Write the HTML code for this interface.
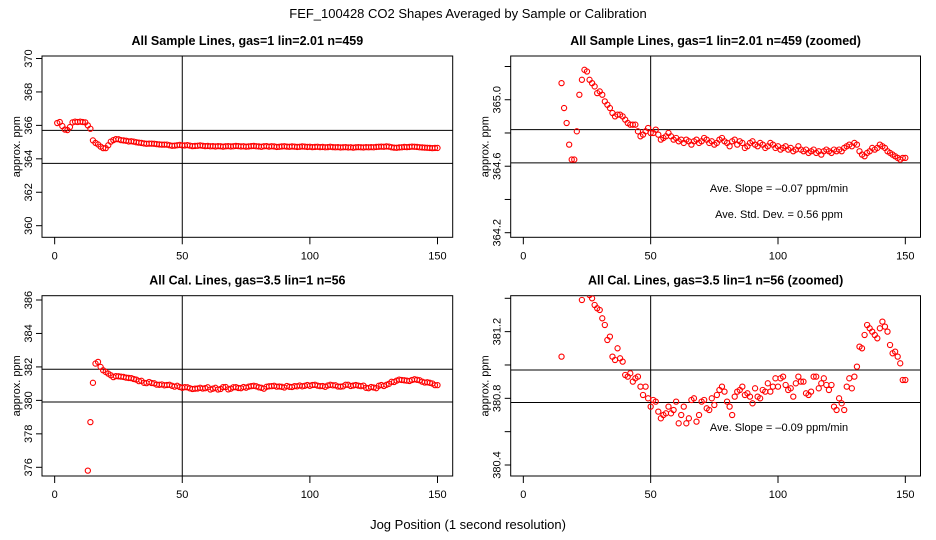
<!DOCTYPE html>
<html><head><meta charset="utf-8"><style>
html,body{margin:0;padding:0;background:#fff;width:936px;height:540px;overflow:hidden;}
svg{display:block;font-family:"Liberation Sans",sans-serif;}
</style></head><body>
<svg id="chart" width="936" height="540" viewBox="0 0 936 540" xmlns="http://www.w3.org/2000/svg">
<text x="468" y="18" text-anchor="middle" font-size="13">FEF_100428  CO2 Shapes Averaged by Sample or Calibration</text>
<text x="468" y="529" text-anchor="middle" font-size="13">Jog Position (1 second resolution)</text>
</svg>
<script>
const sampleStart = 1;
const sampleValues = [366.14,366.2,365.96,365.75,365.72,365.9,366.18,366.22,366.2,366.22,366.2,366.18,366.0,365.8,
365.10,364.95,364.86,364.73,364.64,364.64,364.81,365.03,365.12,365.18,365.17,365.12,365.10,365.08,365.04,365.05,
365.03,364.99,364.97,364.95,364.92,364.90,364.91,364.91,364.90,364.88,364.86,364.85,364.85,364.85,364.81,364.78,
364.79,364.81,364.83,364.80,364.80,364.82,364.79,364.76,364.77,364.78,364.80,364.78,364.76,
364.77,364.75,364.76,364.74,364.76,364.75,364.73,364.75,364.76,364.74,
364.75,364.77,364.76,364.74,364.75,364.73,364.74,364.76,364.77,364.75,
364.74,364.72,364.75,364.76,364.73,364.75,364.74,364.71,364.72,364.74,
364.75,364.73,364.72,364.74,364.73,364.71,364.72,364.74,364.73,364.71,
364.72,364.70,364.71,364.72,364.70,364.71,364.69,364.70,364.72,364.70,
364.69,364.70,364.68,364.69,364.70,364.68,364.69,364.67,364.69,364.70,
364.69,364.68,364.70,364.69,364.70,364.69,364.71,364.72,364.73,364.72,
364.74,364.73,364.69,364.67,364.66,364.68,364.69,364.71,364.70,364.71,
364.73,364.72,364.71,364.69,364.68,364.67,364.66,364.65,364.64,364.65,364.65];
const calStart = 13;
const calValues = [375.8,378.7,381.05,382.2,382.3,382.0,381.8,381.7,381.6,381.5,381.39,381.45,381.44,381.42,381.40,381.36,
381.34,381.33,381.28,381.24,381.15,381.17,381.05,381.03,381.10,381.04,381.02,380.94,380.93,380.95,380.90,380.92,
380.93,380.87,380.82,380.87,380.80,380.75,380.79,380.78,380.72,380.68,380.70,380.71,380.75,380.71,380.73,380.78,
380.65,380.70,380.75,380.65,380.68,380.79,380.80,380.66,380.70,380.78,380.79,380.74,380.73,380.80,380.76,380.82,
380.85,380.87,380.84,380.78,380.75,380.70,380.81,380.84,380.85,380.87,380.82,380.83,380.81,380.77,380.86,380.81,
380.80,380.85,380.84,380.89,380.84,380.87,380.92,380.87,380.92,380.93,380.88,380.85,380.86,380.81,380.89,380.93,
380.90,380.90,380.83,380.82,380.84,380.93,380.93,380.86,380.89,380.92,380.88,380.85,380.88,380.75,380.73,380.80,
380.77,380.73,380.87,380.92,380.86,380.93,380.99,381.11,381.10,381.18,381.24,381.22,381.20,381.18,381.16,381.22,
381.26,381.23,381.20,381.12,381.07,381.08,381.05,381.01,380.91,380.91];
const xTicks = [0,50,100,150];
const tlYTicks = [360,362,364,366,368,370];
const trYTicks = [364.2,364.4,364.6,364.8,365.0,365.2];
const trYLabels = ["364.2","","364.6","","365.0",""];
const blYTicks = [376,378,380,382,384,386];
const brYTicks = [380.4,380.6,380.8,381.0,381.2,381.4];
const brYLabels = ["380.4","","380.8","","381.2",""];
const tlHLines = [365.70,363.73];
const trHLines = [364.82,364.62];
const blHLines = [381.86,379.9];
const brHLines = [380.97,380.775];

const NS = "http://www.w3.org/2000/svg";
const svg = document.getElementById('chart');
function mk(tag, attrs, parent){const e=document.createElementNS(NS,tag);for(const k in attrs)e.setAttribute(k,attrs[k]);(parent||svg).appendChild(e);return e;}

function panel(cfg){
  const g = mk('g',{});
  
  
  const L=cfg.box[0],R=cfg.box[1],T=cfg.box[2],B=cfg.box[3];
  const xs = v => L + (v + 4.96) * (R - L) / 160.92;
  const ys = v => cfg.y0px + (v - cfg.y0) * (cfg.y1px - cfg.y0px) / (cfg.y1 - cfg.y0);
  const clip = 'clip-' + cfg.name;
  const cp = mk('clipPath',{id:clip},g); mk('rect',{x:L,y:T,width:R-L,height:B-T},cp);
  const t = mk('text',{x:(L+R)/2,y:T-11,'text-anchor':'middle','font-size':12.5,'font-weight':'bold'},g);
  t.textContent = cfg.title;
  
  
  const box = mk('rect',{x:L,y:T,width:R-L,height:B-T,fill:'none',stroke:'#000','stroke-width':1},g);
  
  
  xTicks.forEach(v=>{
    const x=xs(v);
    const tk=mk('line',{x1:x,x2:x,y1:B,y2:B+7,stroke:'#000'},g);
    
    
    const tl=mk('text',{x:x,y:B+22,'text-anchor':'middle','font-size':11},g);
    tl.textContent=String(v);
    
    
  });
  cfg.yTicks.forEach((v,i)=>{
    const y=ys(v);
    const tk=mk('line',{x1:L-6,x2:L,y1:y,y2:y,stroke:'#000'},g);
    
    
    const lab = cfg.yLabels ? cfg.yLabels[i] : String(v);
    if(lab){
      const tl=mk('text',{x:L-10,y:y,'text-anchor':'middle','font-size':11,transform:`rotate(-90 ${L-10} ${y})`},g);
      tl.textContent=lab;
      
      
    }
  });
  const yt=mk('text',{x:L-22,y:(T+B)/2,'text-anchor':'middle','font-size':11,transform:`rotate(-90 ${L-22} ${(T+B)/2})`},g);
  yt.textContent='approx. ppm';
  
  
  const vx=xs(50);
  const vl=mk('line',{x1:vx,x2:vx,y1:T,y2:B,stroke:'#000'},g);
  
  
  cfg.hLines.forEach(v=>{
    const hl=mk('line',{x1:L,x2:R,y1:ys(v),y2:ys(v),stroke:'#000'},g);
    
    
  });
  const pg=mk('g',{'clip-path':`url(#${clip})`},g);
  
  
  cfg.values.forEach((v,i)=>{
    const c=mk('circle',{cx:xs(cfg.start+i),cy:ys(v),r:2.6,fill:'none',stroke:'#f00','stroke-width':1.1},pg);
    
    
  });
  (cfg.notes||[]).forEach(n=>{
    const tx=mk('text',{x:n[0],y:n[1],'text-anchor':'middle','font-size':11},g);
    tx.textContent=n[2];
    
    
  });
}

panel({name:'panel-sample-all',title:'All Sample Lines, gas=1 lin=2.01 n=459',box:[42,452.7,56,237.3],
  y0:370,y0px:58.5,y1:360,y1px:225.7,yTicks:tlYTicks,hLines:tlHLines,values:sampleValues,start:sampleStart});
panel({name:'panel-sample-zoomed',title:'All Sample Lines, gas=1 lin=2.01 n=459 (zoomed)',box:[510.7,920.5,56,237.3],
  y0:365.2,y0px:66.5,y1:364.2,y1px:232.7,yTicks:trYTicks,yLabels:trYLabels,hLines:trHLines,values:sampleValues,start:sampleStart,
  notes:[[779,192,'Ave. Slope =  \u20130.07  ppm/min'],[779,218,'Ave. Std. Dev. =  0.56  ppm']]});
panel({name:'panel-cal-all',title:'All Cal. Lines, gas=3.5 lin=1 n=56',box:[42,452.7,295.7,476],
  y0:386,y0px:300,y1:376,y1px:467.3,yTicks:blYTicks,hLines:blHLines,values:calValues,start:calStart});
panel({name:'panel-cal-zoomed',title:'All Cal. Lines, gas=3.5 lin=1 n=56 (zoomed)',box:[510.7,920.5,295.7,476],
  y0:381.4,y0px:298.3,y1:380.4,y1px:465,yTicks:brYTicks,yLabels:brYLabels,hLines:brHLines,values:calValues,start:calStart,
  notes:[[779,431,'Ave. Slope =  \u20130.09  ppm/min']]});
</script>
</body></html>
